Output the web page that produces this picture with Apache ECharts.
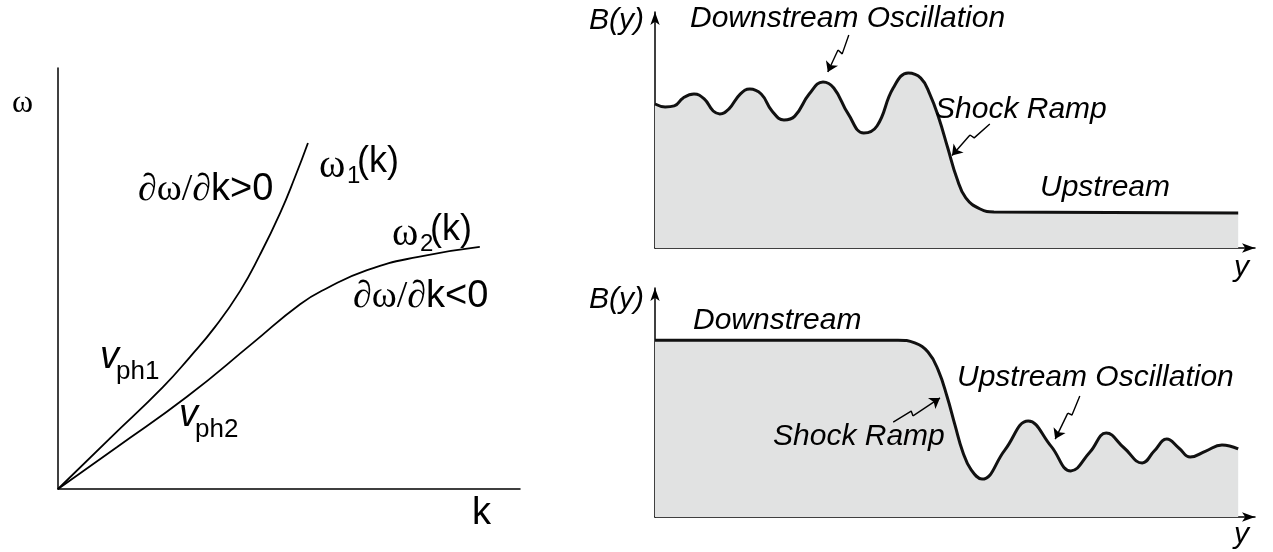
<!DOCTYPE html>
<html>
<head>
<meta charset="utf-8">
<script src="https://cdn.jsdelivr.net/npm/echarts@6/dist/echarts.min.js"></script>
<style>html,body{margin:0;padding:0;background:#fff}#c{width:1273px;height:552px}</style>
</head>
<body>
<div id="c"></div>
<script>
// ---- Left panel: dispersion curves omega(k) ----
const kBranch1 = [0, 1.13, 2.27, 2.86, 3.40, 3.94, 4.37, 4.81, 5.13, 5.41];
const omegaBranch1 = [0, 1.21, 2.42, 3.14, 3.85, 4.70, 5.56, 6.56, 7.41, 8.22];
const kBranch2 = [0, 1.28, 2.79, 4.22, 5.24, 5.82, 6.69, 7.77, 9.13];
const omegaBranch2 = [0, 1.00, 2.19, 3.47, 4.39, 4.77, 5.20, 5.51, 5.75];

// ---- Top right: downstream oscillation profile ----
const yTop = [0.00, 0.17, 0.32, 0.47, 0.65, 0.82, 0.97, 1.08, 1.23, 1.42, 1.58, 1.77, 1.95, 2.15, 2.33, 2.57, 2.80, 2.98, 3.22, 3.48, 3.70, 3.97, 4.22, 4.43, 4.58, 4.73, 4.88, 5.03, 5.18, 5.42, 5.65, 9.72];
const bTop = [5.95, 5.83, 5.87, 6.20, 6.36, 6.16, 5.66, 5.54, 5.74, 6.36, 6.57, 6.36, 5.66, 5.29, 5.45, 6.36, 6.86, 6.61, 5.54, 4.75, 5.04, 6.61, 7.23, 7.02, 6.36, 5.37, 4.13, 2.89, 2.07, 1.61, 1.49, 1.45];

// ---- Bottom right: upstream oscillation profile ----
const yBot = [0, 4.05, 4.33, 4.55, 4.72, 4.87, 5.00, 5.13, 5.27, 5.45, 5.83, 6.22, 6.60, 6.93, 7.25, 7.52, 7.82, 8.12, 8.32, 8.53, 8.73, 8.92, 9.18, 9.45, 9.72];
const bBot = [7.56, 7.56, 7.44, 7.05, 6.28, 5.13, 3.93, 2.78, 2.01, 1.62, 2.86, 4.10, 3.03, 1.97, 2.78, 3.59, 2.95, 2.31, 2.82, 3.33, 2.95, 2.56, 2.82, 3.08, 2.91];

// ---- Annotation pointer paths (data units of each panel) ----
const arrowTopOsc = [[3.23, 8.80], [3.12, 8.02], [3.05, 8.18], [2.88, 7.27]];
const arrowTopRamp = [[5.58, 5.12], [5.32, 4.55], [5.25, 4.67], [4.95, 3.82]];
const arrowBotRamp = [[3.97, 4.06], [4.27, 4.53], [4.30, 4.32], [4.75, 5.09]];
const arrowBotOsc = [[7.08, 5.17], [6.95, 4.36], [6.88, 4.44], [6.67, 3.33]];

const zip = (a, b) => a.map((v, i) => [v, b[i]]);

const chart = echarts.init(document.getElementById('c'), null, {renderer: 'canvas'});

const axisBase = (grid, min, max, arrow) => ({
  type: 'value', gridIndex: grid, min: min, max: max,
  axisLine: {show: true, onZero: false, symbol: arrow ? ['none', 'arrow'] : ['none', 'none'], symbolSize: [7, 13],
    lineStyle: {color: '#000', width: 1.5}},
  axisTick: {show: false}, axisLabel: {show: false}, splitLine: {show: false}
});

const SANS = "'Liberation Sans', Arial, sans-serif";
const SERIF = "'Liberation Serif', 'Times New Roman', serif";

function txt(x, y, text, size, opts) {
  opts = opts || {};
  return {type: 'text', x: x, y: y, silent: true, z: 100,
    style: {text: text, fill: '#000', font: (opts.italic ? 'italic ' : '') + size + 'px ' + (opts.family || SANS),
      textAlign: 'left', textVerticalAlign: 'middle'}};
}

// zigzag part as a plain line, final segment with an arrow head
function pointer(coords, idx) {
  const n = coords.length;
  return [
    {type: 'line', xAxisIndex: idx, yAxisIndex: idx, data: coords.slice(0, n - 1), showSymbol: false, silent: true,
      smooth: false, lineStyle: {color: '#000', width: 1.4}, z: 5},
    {type: 'lines', coordinateSystem: 'cartesian2d', xAxisIndex: idx, yAxisIndex: idx,
      symbol: ['none', 'arrow'], symbolSize: 10, silent: true, z: 5,
      lineStyle: {color: '#000', width: 1.4, opacity: 1, curveness: 0},
      data: [{coords: [coords[n - 2], coords[n - 1]]}]}
  ];
}

const option = {
  backgroundColor: '#fff',
  animation: false,
  grid: [
    {left: 58, top: 68, width: 462, height: 421},
    {left: 655, top: 12, width: 600, height: 236},
    {left: 655, top: 288, width: 600, height: 229}
  ],
  xAxis: [axisBase(0, 0, 10, false), axisBase(1, 0, 10, true), axisBase(2, 0, 10, true)],
  yAxis: [axisBase(0, 0, 10, false), axisBase(1, 0, 9.75, true), axisBase(2, 0, 9.79, true)],
  series: [
    {type: 'line', xAxisIndex: 0, yAxisIndex: 0, data: zip(kBranch1, omegaBranch1), smooth: 0.5, showSymbol: false,
      lineStyle: {color: '#000', width: 1.8}},
    {type: 'line', xAxisIndex: 0, yAxisIndex: 0, data: zip(kBranch2, omegaBranch2), smooth: 0.5, showSymbol: false,
      lineStyle: {color: '#000', width: 1.8}},
    {type: 'line', xAxisIndex: 1, yAxisIndex: 1, data: zip(yTop, bTop), smooth: 0.45, showSymbol: false,
      lineStyle: {color: '#111', width: 3}, areaStyle: {color: '#e1e2e2', opacity: 1}},
    {type: 'line', xAxisIndex: 2, yAxisIndex: 2, data: zip(yBot, bBot), smooth: 0.45, showSymbol: false,
      lineStyle: {color: '#111', width: 3}, areaStyle: {color: '#e1e2e2', opacity: 1}}
  ].concat(pointer(arrowTopOsc, 1), pointer(arrowTopRamp, 1), pointer(arrowBotRamp, 2), pointer(arrowBotOsc, 2)),
  graphic: [
    // left panel
    txt(12, 104, 'ω', 32, {family: SERIF}),
    txt(472, 514, 'k', 38),
    {type: 'text', x: 138, y: 190, silent: true, z: 100, style: {text: '{s|∂ω/∂}{n|k>0}', textAlign: 'left', textVerticalAlign: 'middle', fill: '#000',
      rich: {s: {font: '38px ' + SERIF, fill: '#000'}, n: {font: '38px ' + SANS, fill: '#000'}}}},
    {type: 'text', x: 353, y: 297, silent: true, z: 100, style: {text: '{s|∂ω/∂}{n|k<0}', textAlign: 'left', textVerticalAlign: 'middle', fill: '#000',
      rich: {s: {font: '38px ' + SERIF, fill: '#000'}, n: {font: '38px ' + SANS, fill: '#000'}}}},
    txt(319, 166, 'ω', 40, {family: SERIF}),
    txt(347, 176, '1', 24),
    txt(357, 162, '(k)', 36),
    txt(392, 234, 'ω', 40, {family: SERIF}),
    txt(420, 244, '2', 24),
    txt(430, 230, '(k)', 36),
    txt(100, 357, 'v', 38, {italic: true}),
    txt(116, 372, 'ph1', 26),
    txt(179, 415, 'v', 38, {italic: true}),
    txt(195, 430, 'ph2', 26),
    // top right panel
    txt(589, 21, 'B(y)', 30, {italic: true}),
    txt(690, 19, 'Downstream Oscillation', 30, {italic: true}),
    txt(935, 110, 'Shock Ramp', 30, {italic: true}),
    txt(1040, 188, 'Upstream', 30, {italic: true}),
    txt(1234, 268, 'y', 30, {italic: true}),
    // bottom right panel
    txt(589, 300, 'B(y)', 30, {italic: true}),
    txt(693, 321, 'Downstream', 30, {italic: true}),
    txt(957, 378, 'Upstream Oscillation', 30, {italic: true}),
    txt(773, 437, 'Shock Ramp', 30, {italic: true}),
    txt(1234, 535, 'y', 30, {italic: true})
  ]
};
chart.setOption(option);
</script>
</body>
</html>
